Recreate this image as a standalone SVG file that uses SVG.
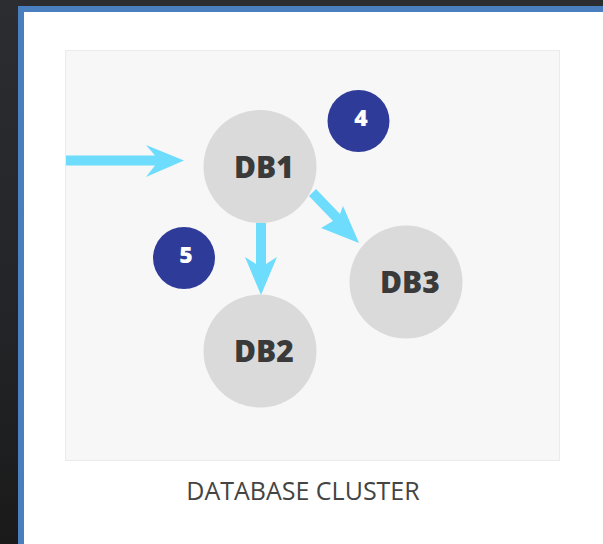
<svg xmlns="http://www.w3.org/2000/svg" width="603" height="544" viewBox="0 0 603 544">
  <defs>
    <linearGradient id="bg" x1="0" y1="0" x2="0" y2="1">
      <stop offset="0" stop-color="#2c2d30"/>
      <stop offset="0.6" stop-color="#232427"/>
      <stop offset="1" stop-color="#1a1a1a"/>
    </linearGradient>
    <style>
      .db circle { fill: #dadada; }
      .db text { font-family: "Open Sans", "DejaVu Sans", sans-serif; font-weight: 800; font-size: 30px; fill: #3a3a3a; text-anchor: middle; }
      .badge circle { fill: #2e3b98; }
      .badge text { font-family: "Open Sans", "DejaVu Sans", sans-serif; font-weight: 800; font-size: 23px; fill: #ffffff; text-anchor: middle; }
      .conn { fill: #6edcfc; }
      .caption { font-family: "Open Sans", "DejaVu Sans", sans-serif; font-size: 25px; fill: #444444; text-anchor: middle; }
    </style>
  </defs>
  <rect x="0" y="0" width="603" height="544" fill="url(#bg)"/>
  <!-- card -->
  <rect x="18" y="6" width="585" height="538" fill="#4a7fbf"/>
  <rect x="24" y="12" width="579" height="532" fill="#ffffff"/>
  <!-- panel -->
  <rect x="65.5" y="50.5" width="494" height="410" fill="#f7f7f7" stroke="#ebebeb" stroke-width="1"/>

  <g id="connectors" class="conn">
    <!-- entry arrow -->
    <polygon points="66,155.5 155,155.5 146,145 184,160.5 146,177 155,165.5 66,165.5"/>
    <!-- DB1 to DB2 -->
    <polygon points="256,223 266,223 266,264 277,257 261,295 245,257 256,264"/>
    <!-- DB1 to DB3 -->
    <polygon points="316,189 340,214 343,206 359,243 321,228 333,221 309,196"/>
  </g>

  <g id="db1" class="db">
    <circle cx="260" cy="166.5" r="56.5"/>
    <text x="264" y="177.5">DB1</text>
  </g>
  <g id="db2" class="db">
    <circle cx="260" cy="351" r="56.5"/>
    <text x="264" y="362">DB2</text>
  </g>
  <g id="db3" class="db">
    <circle cx="406" cy="282" r="56.5"/>
    <text x="410" y="293">DB3</text>
  </g>
  <g id="badge4" class="badge">
    <circle cx="358.5" cy="121" r="31"/>
    <text x="361" y="125.5">4</text>
  </g>
  <g id="badge5" class="badge">
    <circle cx="184" cy="258" r="31"/>
    <text x="186" y="262.5">5</text>
  </g>
  <text id="caption" class="caption" x="303" y="500">DATABASE CLUSTER</text>
</svg>
